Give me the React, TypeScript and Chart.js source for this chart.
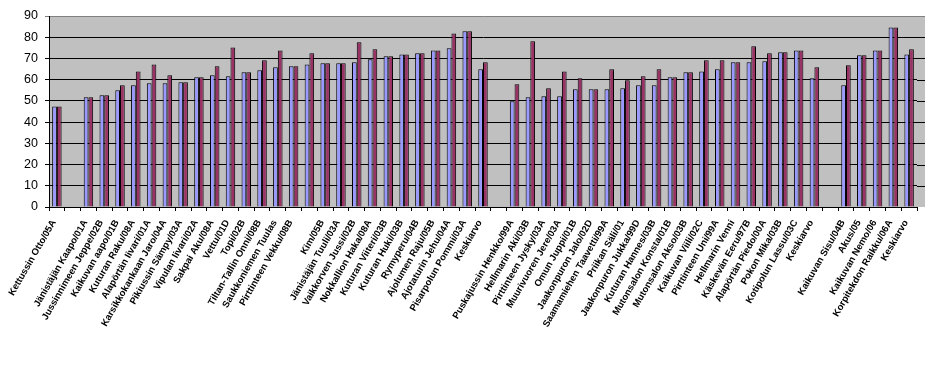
import React, { useEffect, useRef } from 'react';
import { Chart, registerables } from 'chart.js';

Chart.register(...registerables);

const categories: string[] = [
  'Kettussin Otto/05A', '', 'Jänistäjän Kaapo/01A', 'Jussinnimeen Jeppe/02B', 'Kaikuvan aapo/01B',
  'Kuturan Raku/08A', 'Alapörtän Iivari/01A', 'Karsikkokankaan Jaro/04A', 'Pikiussin Sämpy/03A',
  'Vipulan Iivari/02A', 'Sakpai Aku/08A', 'Vettu/01D', 'Topi/02B', 'Tiltan-Tallin Onni/08B',
  'Saukkoniemen Tuulas', 'Pirttinteen Vekku/08B', '', 'Kim/05B', 'Jänistäjän Tuuli/03A',
  'Vaikkorven Jussi/02B', 'Nokkallion Haka/08A', 'Kuturan Viiteri/03B', 'Kuturan Huki/03B',
  'Rymyperu/04B', 'Ajolumen Raju/05B', 'Ajotaturin Jehu/04A', 'Pisarpolun Pommi/03A', 'Keskiarvo',
  '', 'Puskajussin Henkko/99A', 'Hellmarin Aki/03B', 'Pirttinteen Jysky/03A', 'Muurivuoren Jere/03A',
  'Omun Juppi/01B', 'Jaakonpuron Jalo/02D', 'Saamamiehen Taavetti/99A', 'Priikan Säli/01',
  'Jaakonpuron Jukka/99D', 'Kuturan Hannes/03B', 'Mutonsalon Konsta/01B', 'Mutonsalon Akso/03B',
  'Kaikuvan Viili/02C', 'Pirttinteen Uni/99A', 'Hellmarin Venni', 'Käskevän Eeru/97B',
  'Alapörtän Piedo/00A', 'Pokon Mika/03B', 'Kotipolun Lassu/03C', 'Keskiarvo', '',
  'Kaikuvan Sisu/04B', 'Akus/05', 'Kaikuvan Nemo/06', 'Korpitekdon Raikku/06A', 'Keskiarvo',
];

const seriesBlue: (number | null)[] = [
  47.3, null, 51.7, 52.7, 55.0, 57.4, 58.3, 58.3, 58.8, 61.1, 62.1, 61.6, 63.5, 64.4,
  65.8, 66.3, 67.2, 67.7, 67.7, 68.2, 69.6, 71.0, 71.9, 72.4, 73.8, 74.8, 82.8, 64.9,
  null, 49.8, 51.7, 52.2, 52.2, 55.5, 55.5, 55.5, 56.0, 57.4, 57.4, 61.1, 63.5, 63.9,
  64.9, 68.2, 68.2, 68.7, 72.9, 73.8, 60.7, null, 57.4, 71.5, 73.8, 84.6, 71.9,
];

const seriesRed: (number | null)[] = [
  47.3, null, 51.7, 52.7, 57.4, 63.9, 67.2, 62.1, 58.8, 61.1, 66.3, 75.2, 63.5, 69.1,
  73.8, 66.3, 72.4, 67.7, 67.7, 77.6, 74.3, 71.0, 71.9, 72.4, 73.8, 81.8, 82.8, 68.2,
  null, 57.8, 78.1, 56.0, 63.9, 60.7, 55.5, 64.9, 59.7, 61.6, 64.9, 61.1, 63.5, 69.1,
  69.1, 68.2, 75.7, 72.4, 72.9, 73.8, 65.8, null, 66.8, 71.5, 73.8, 84.6, 74.3,
];

const yTicks: number[] = [0, 10, 20, 30, 40, 50, 60, 70, 80, 90];

const extendPlot = {
  id: 'extendPlot',
  beforeDraw(chart: any) {
    const { ctx, chartArea, width } = chart;
    ctx.save();
    ctx.fillStyle = '#C0C0C0';
    ctx.fillRect(chartArea.left, chartArea.top, width - chartArea.left, chartArea.bottom - chartArea.top);
    ctx.restore();
  },
  beforeDatasetsDraw(chart: any) {
    const { ctx, chartArea, width } = chart;
    const y = chart.scales.y;
    ctx.save();
    ctx.lineWidth = 1;
    yTicks.forEach((v) => {
      if (v === 0) return;
      const py = Math.round(y.getPixelForValue(v)) + 0.5;
      ctx.strokeStyle = v === 90 ? '#808080' : '#000000';
      ctx.beginPath();
      ctx.moveTo(chartArea.right, py);
      ctx.lineTo(width, py);
      ctx.stroke();
    });
    ctx.restore();
  },
};

export default function App() {
  const ref = useRef<HTMLCanvasElement | null>(null);
  useEffect(() => {
    if (!ref.current) return;
    const chart = new Chart(ref.current, {
      type: 'bar',
      data: {
        labels: categories,
        datasets: [
          {
            label: 'A',
            data: seriesBlue,
            backgroundColor: '#9999FF',
            borderColor: '#000000',
            borderWidth: 1,
            categoryPercentage: 0.6,
            barPercentage: 1.0,
          },
          {
            label: 'B',
            data: seriesRed,
            backgroundColor: '#993366',
            borderColor: '#000000',
            borderWidth: 1,
            categoryPercentage: 0.6,
            barPercentage: 1.0,
          },
        ],
      },
      options: {
        responsive: false,
        animation: false,
        layout: { padding: { top: 16, right: 8, left: 0, bottom: 0 } },
        plugins: { legend: { display: false }, tooltip: { enabled: false } },
        scales: {
          x: {
            offset: true,
            grid: {
              offset: true,
              display: true,
              drawOnChartArea: false,
              drawTicks: true,
              tickLength: 4,
              color: '#000000',
            },
            border: { display: true, color: '#000000' },
            ticks: {
              autoSkip: false,
              maxRotation: 60,
              minRotation: 60,
              padding: 7,
              labelOffset: -3,
              color: '#000000',
              font: { family: 'Liberation Sans', size: 9.5, weight: 'bold' },
            },
            afterFit(scale: any) {
              scale.height = 163;
              scale.paddingLeft = 0;
              scale.paddingRight = 0;
            },
          },
          y: {
            min: 0,
            max: 90,
            afterBuildTicks(scale: any) {
              scale.ticks = yTicks.map((v) => ({ value: v }));
            },
            grid: {
              color: (c: any) => (c.tick && c.tick.value === 90 ? '#808080' : '#000000'),
              tickLength: 4,
              drawTicks: true,
            },
            border: { display: true, color: '#000000' },
            ticks: {
              padding: 7,
              color: '#000000',
              font: { family: 'Liberation Sans', size: 12.5 },
            },
            afterFit(scale: any) {
              scale.width = 49;
            },
          },
        },
      },
      plugins: [extendPlot],
    });
    return () => chart.destroy();
  }, []);
  return (
    <div style={{ position: 'absolute', left: 0, top: 0, width: 925, height: 370, background: '#ffffff' }}>
      <canvas ref={ref} width={925} height={370} style={{ display: 'block' }} />
    </div>
  );
}
